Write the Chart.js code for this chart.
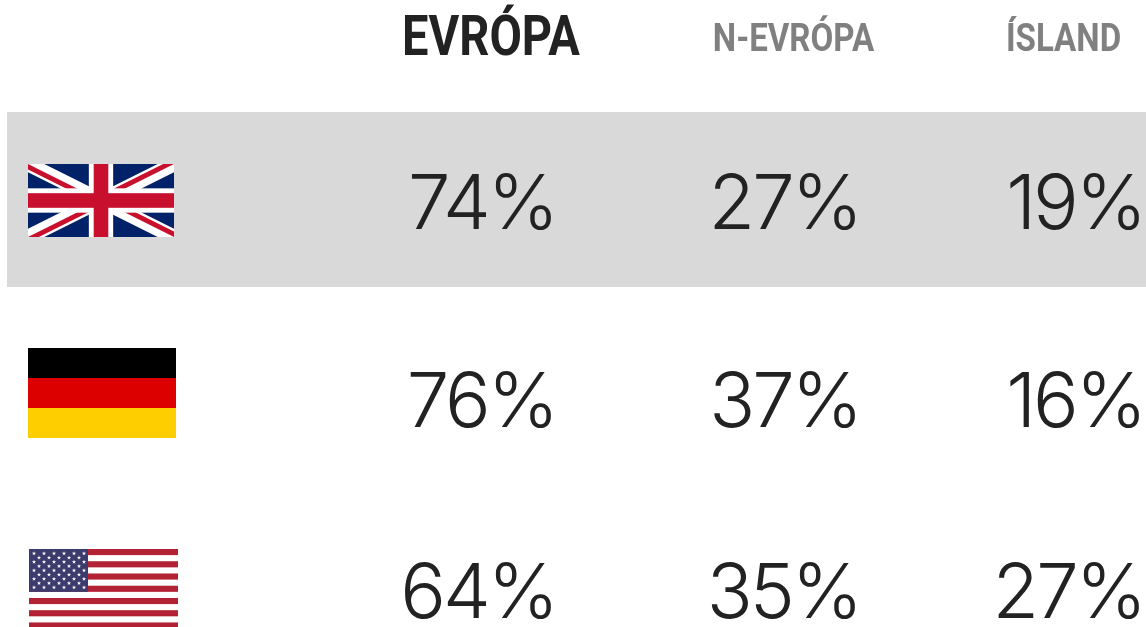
<!DOCTYPE html>
<html>
<head>
<meta charset="utf-8">
<title>Evrópa</title>
<script src="https://cdn.jsdelivr.net/npm/chart.js@4"></script>
<style>
html,body{margin:0;padding:0;background:#fff;overflow:hidden}
canvas{display:block}
</style>
</head>
<body>
<canvas id="myChart" width="1146" height="627"></canvas>
<script>
// donnees
const countries = ['UK', 'DE', 'US'];
const columns = ['EVRÓPA', 'N-EVRÓPA', 'ÍSLAND'];
const evropa = [74, 76, 64];
const nEvropa = [27, 37, 35];
const island = [19, 16, 27];

// mise en page (pixels de la page)
const headerX = [491, 793.5, 1063.5];
const headerY = 41;
const valueX = [556, 860, 1144];
const valueY = [206, 404, 595];
const flagX = [101, 102, 103.5];
const flagY = [200.5, 393, 589];

/******************************************/
function makeCanvas(w, h, draw){
    const c = document.createElement('canvas');
    c.width = w;
    c.height = h;
    draw(c.getContext('2d'), w, h);
    return c;
}

function drawUK(ctx, w, h){
    ctx.scale(w / 60, h / 30);
    ctx.fillStyle = '#012169';
    ctx.fillRect(0, 0, 60, 30);
    const diag = new Path2D('M0,0 L60,30 M60,0 L0,30');
    ctx.strokeStyle = '#fff';
    ctx.lineWidth = 6;
    ctx.stroke(diag);
    ctx.save();
    ctx.clip(new Path2D('M30,15 h30 v15 z M30,15 v15 h-30 z M30,15 h-30 v-15 z M30,15 v-15 h30 z'));
    ctx.strokeStyle = '#C8102E';
    ctx.lineWidth = 4;
    ctx.stroke(diag);
    ctx.restore();
    ctx.fillStyle = '#fff';
    ctx.fillRect(25, 0, 10, 30);
    ctx.fillRect(0, 10, 60, 10);
    ctx.fillStyle = '#C8102E';
    ctx.fillRect(27, 0, 6, 30);
    ctx.fillRect(0, 12, 60, 6);
}

function drawDE(ctx, w, h){
    ['#000000', '#DD0000', '#FFCE00'].forEach((col, i) => {
        ctx.fillStyle = col;
        ctx.fillRect(0, i * h / 3, w, h / 3);
    });
}

function drawUS(ctx, w, h){
    const stripe = 6.12;
    ctx.fillStyle = '#fff';
    ctx.fillRect(0, 0, w, h);
    ctx.fillStyle = '#B22234';
    for(let i = 0; i < 13; i += 2){
        ctx.fillRect(0, i * stripe, w, stripe);
    }
    const cw = 59, ch = 7 * stripe;
    ctx.fillStyle = '#3C3B6E';
    ctx.fillRect(0, 0, cw, ch);
    ctx.fillStyle = '#fff';
    for(let r = 0; r < 9; r++){
        const n = r % 2 ? 5 : 6;
        for(let k = 0; k < n; k++){
            const sx = (r % 2 ? 10 : 5) + k * 10;
            const sy = 4.4 + r * 4.25;
            ctx.beginPath();
            for(let p = 0; p < 10; p++){
                const a = -Math.PI / 2 + p * Math.PI / 5;
                const rad = p % 2 ? 0.9 : 2.2;
                ctx.lineTo(sx + rad * Math.cos(a), sy + rad * Math.sin(a));
            }
            ctx.closePath();
            ctx.fill();
        }
    }
}

const flags = [
    makeCanvas(146, 73, drawUK),
    makeCanvas(148, 90, drawDE),
    makeCanvas(149, 80, drawUS)
];

/******************************************/
// bande grise, en-tetes + textes des valeurs
const tablePlugin = {
    id: 'tablePlugin',
    beforeDatasetsDraw(chart){
        const {ctx, scales} = chart;
        const top = scales.y.getPixelForValue(112);
        const bottom = scales.y.getPixelForValue(287);
        ctx.save();
        ctx.fillStyle = '#D9D9D9';
        ctx.fillRect(scales.x.getPixelForValue(7), top, scales.x.getPixelForValue(1146) - scales.x.getPixelForValue(7), bottom - top);
        ctx.restore();
    },
    afterDatasetsDraw(chart){
        const {ctx, scales} = chart;
        ctx.save();
        ctx.font = '300 76px Inter, sans-serif';
        ctx.letterSpacing = '-3px';
        ctx.fillStyle = '#222222';
        ctx.textAlign = 'right';
        ctx.textBaseline = 'middle';
        chart.data.datasets.forEach((ds, i) => {
            if(ds.isFlags) return;
            chart.getDatasetMeta(i).data.forEach((pt, j) => {
                ctx.fillText(ds.data[j].v + '%', pt.x, pt.y);
            });
        });
        ctx.restore();

        // en-tetes : Roboto gras resserre
        columns.forEach((name, i) => {
            ctx.save();
            ctx.translate(scales.x.getPixelForValue(headerX[i]), scales.y.getPixelForValue(headerY));
            ctx.scale(i === 0 ? 0.855 : 0.87, 1);
            ctx.font = 'bold ' + (i === 0 ? 55 : 38) + 'px Roboto, sans-serif';
            ctx.fillStyle = i === 0 ? '#222222' : '#808080';
            ctx.textAlign = 'center';
            ctx.textBaseline = 'middle';
            ctx.fillText(name, 0, 0);
            ctx.restore();
        });
    }
};

function valueDataset(label, values, col){
    return {
        label: label,
        data: values.map((v, i) => ({x: valueX[col], y: valueY[i], v: v})),
        pointRadius: 0,
        showLine: false
    };
}

var ctx = document.getElementById('myChart').getContext('2d');
var myChart = new Chart(ctx, {
    type: 'scatter',
    data: {
        datasets: [
            {
                label: 'flags',
                isFlags: true,
                data: countries.map((c, i) => ({x: flagX[i], y: flagY[i]})),
                pointStyle: flags
            },
            valueDataset(columns[0], evropa, 0),
            valueDataset(columns[1], nEvropa, 1),
            valueDataset(columns[2], island, 2)
        ]
    },
    plugins: [tablePlugin],
    options: {
        responsive: false,
        animation: false,
        events: [],
        layout: {padding: 0, autoPadding: false},
        plugins: {
            legend: {display: false},
            tooltip: {enabled: false}
        },
        scales: {
            x: {type: 'linear', display: false, min: 0, max: 1146},
            y: {type: 'linear', display: false, reverse: true, min: 0, max: 627}
        }
    }
});
</script>
</body>
</html>
